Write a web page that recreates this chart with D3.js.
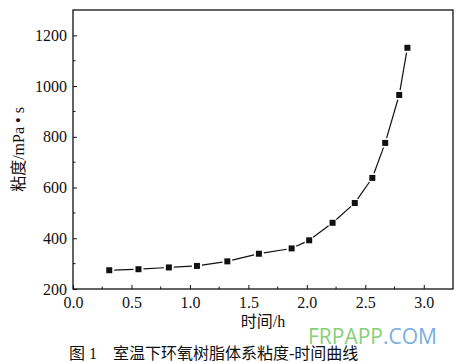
<!DOCTYPE html>
<html>
<head>
<meta charset="utf-8">
<script src="https://cdn.jsdelivr.net/npm/d3@7"></script>
<style>
  body { margin: 0; background: #fff; }
  svg text { fill: #111; }
  .serif { font-family: "Liberation Serif", "DejaVu Serif", serif; }
  .cjk { font-family: "Liberation Serif", "Noto Sans CJK SC", serif; }
</style>
</head>
<body>
<div id="chart"></div>
<script>
// time (h) vs viscosity (mPa·s)
var timeH      = [0.31, 0.56, 0.82, 1.06, 1.32, 1.59, 1.87, 2.02, 2.22, 2.41, 2.56, 2.67, 2.79, 2.86]
var viscosity  = [274, 278, 285, 291, 309, 339, 360, 392, 461, 539, 638, 776, 965, 1151]
var xTicks     = [0, 0.5, 1.0, 1.5, 2.0, 2.5, 3.0]
var yTicks     = [200, 400, 600, 800, 1000, 1200]
var xMinor     = [0.25, 0.75, 1.25, 1.75, 2.25, 2.75]
var yMinor     = [300, 500, 700, 900, 1100]

var width = 465, height = 362
var plot = { left: 73, top: 10, right: 453, bottom: 289 }

var svg = d3.select('#chart').append('svg').attr('width', width).attr('height', height)

var x = d3.scaleLinear().domain([0, 3.25]).range([plot.left, plot.right])
var y = d3.scaleLinear().domain([200, 1300]).range([plot.bottom, plot.top])

// frame
svg.append('rect')
  .attr('x', plot.left).attr('y', plot.top)
  .attr('width', plot.right - plot.left).attr('height', plot.bottom - plot.top)
  .attr('fill', 'none').attr('stroke', '#111').attr('stroke-width', 1.3)

// x axis (ticks inside)
var xAxis = svg.append('g').attr('transform', 'translate(0,' + plot.bottom + ')')
  .call(d3.axisBottom(x).tickValues(xTicks).tickSizeInner(-4).tickSizeOuter(0).tickPadding(8).tickFormat(d3.format('.1f')))
xAxis.attr('font-family', null).attr('font-size', 16).attr('class', 'serif')
xAxis.select('.domain').remove()
xAxis.selectAll('line').attr('stroke', '#111')
xAxis.selectAll('.minor').data(xMinor).enter().append('line').attr('class', 'minor')
  .attr('x1', d => x(d)).attr('x2', d => x(d)).attr('y1', 0).attr('y2', -2.5).attr('stroke', '#111')

// y axis (ticks inside)
var yAxis = svg.append('g').attr('transform', 'translate(' + plot.left + ',0)')
  .call(d3.axisLeft(y).tickValues(yTicks).tickSizeInner(-4).tickSizeOuter(0).tickPadding(6).tickFormat(d3.format('d')))
yAxis.attr('font-family', null).attr('font-size', 16).attr('class', 'serif')
yAxis.select('.domain').remove()
yAxis.selectAll('line').attr('stroke', '#111')
yAxis.selectAll('.minor').data(yMinor).enter().append('line').attr('class', 'minor')
  .attr('y1', d => y(d)).attr('y2', d => y(d)).attr('x1', 0).attr('x2', 2.5).attr('stroke', '#111')

// line segments with small gaps at markers
var pts = timeH.map((t, i) => [x(t), y(viscosity[i])])
var gap = 5
for (var i = 0; i < pts.length - 1; ++i) {
  var a = pts[i], b = pts[i + 1]
  var dx = b[0] - a[0], dy = b[1] - a[1], len = Math.sqrt(dx * dx + dy * dy)
  var ux = dx / len, uy = dy / len
  svg.append('line')
    .attr('x1', a[0] + ux * gap).attr('y1', a[1] + uy * gap)
    .attr('x2', b[0] - ux * gap).attr('y2', b[1] - uy * gap)
    .attr('stroke', '#111').attr('stroke-width', 1.2)
}

// markers
svg.selectAll('.pt').data(timeH).enter().append('rect').attr('class', 'pt')
  .attr('x', (d, i) => x(d) - 3).attr('y', (d, i) => y(viscosity[i]) - 3)
  .attr('width', 6).attr('height', 6).attr('fill', '#111')

// axis titles
svg.append('text').attr('class', 'cjk')
  .attr('x', (plot.left + plot.right) / 2).attr('y', 327)
  .attr('text-anchor', 'middle').attr('font-size', 16)
  .text('时间/h')

svg.append('text').attr('class', 'cjk')
  .attr('transform', 'translate(24,' + ((plot.top + plot.bottom) / 2) + ') rotate(-90)')
  .attr('text-anchor', 'middle').attr('font-size', 16)
  .text('粘度/mPa • s')

// watermark
var wm = svg.append('text').attr('x', 308).attr('y', 344)
  .attr('font-family', 'Open Sans, DejaVu Sans, sans-serif').attr('font-size', 21)
wm.append('tspan').style('fill', '#86cf78').text('FRPAPP')
wm.append('tspan').style('fill', '#78aee0').text('.COM')

// caption
svg.append('text').attr('class', 'cjk')
  .attr('x', 69).attr('y', 359).attr('font-size', 16)
  .text('图 1\u3000室温下环氧树脂体系粘度-时间曲线')
</script>
</body>
</html>
